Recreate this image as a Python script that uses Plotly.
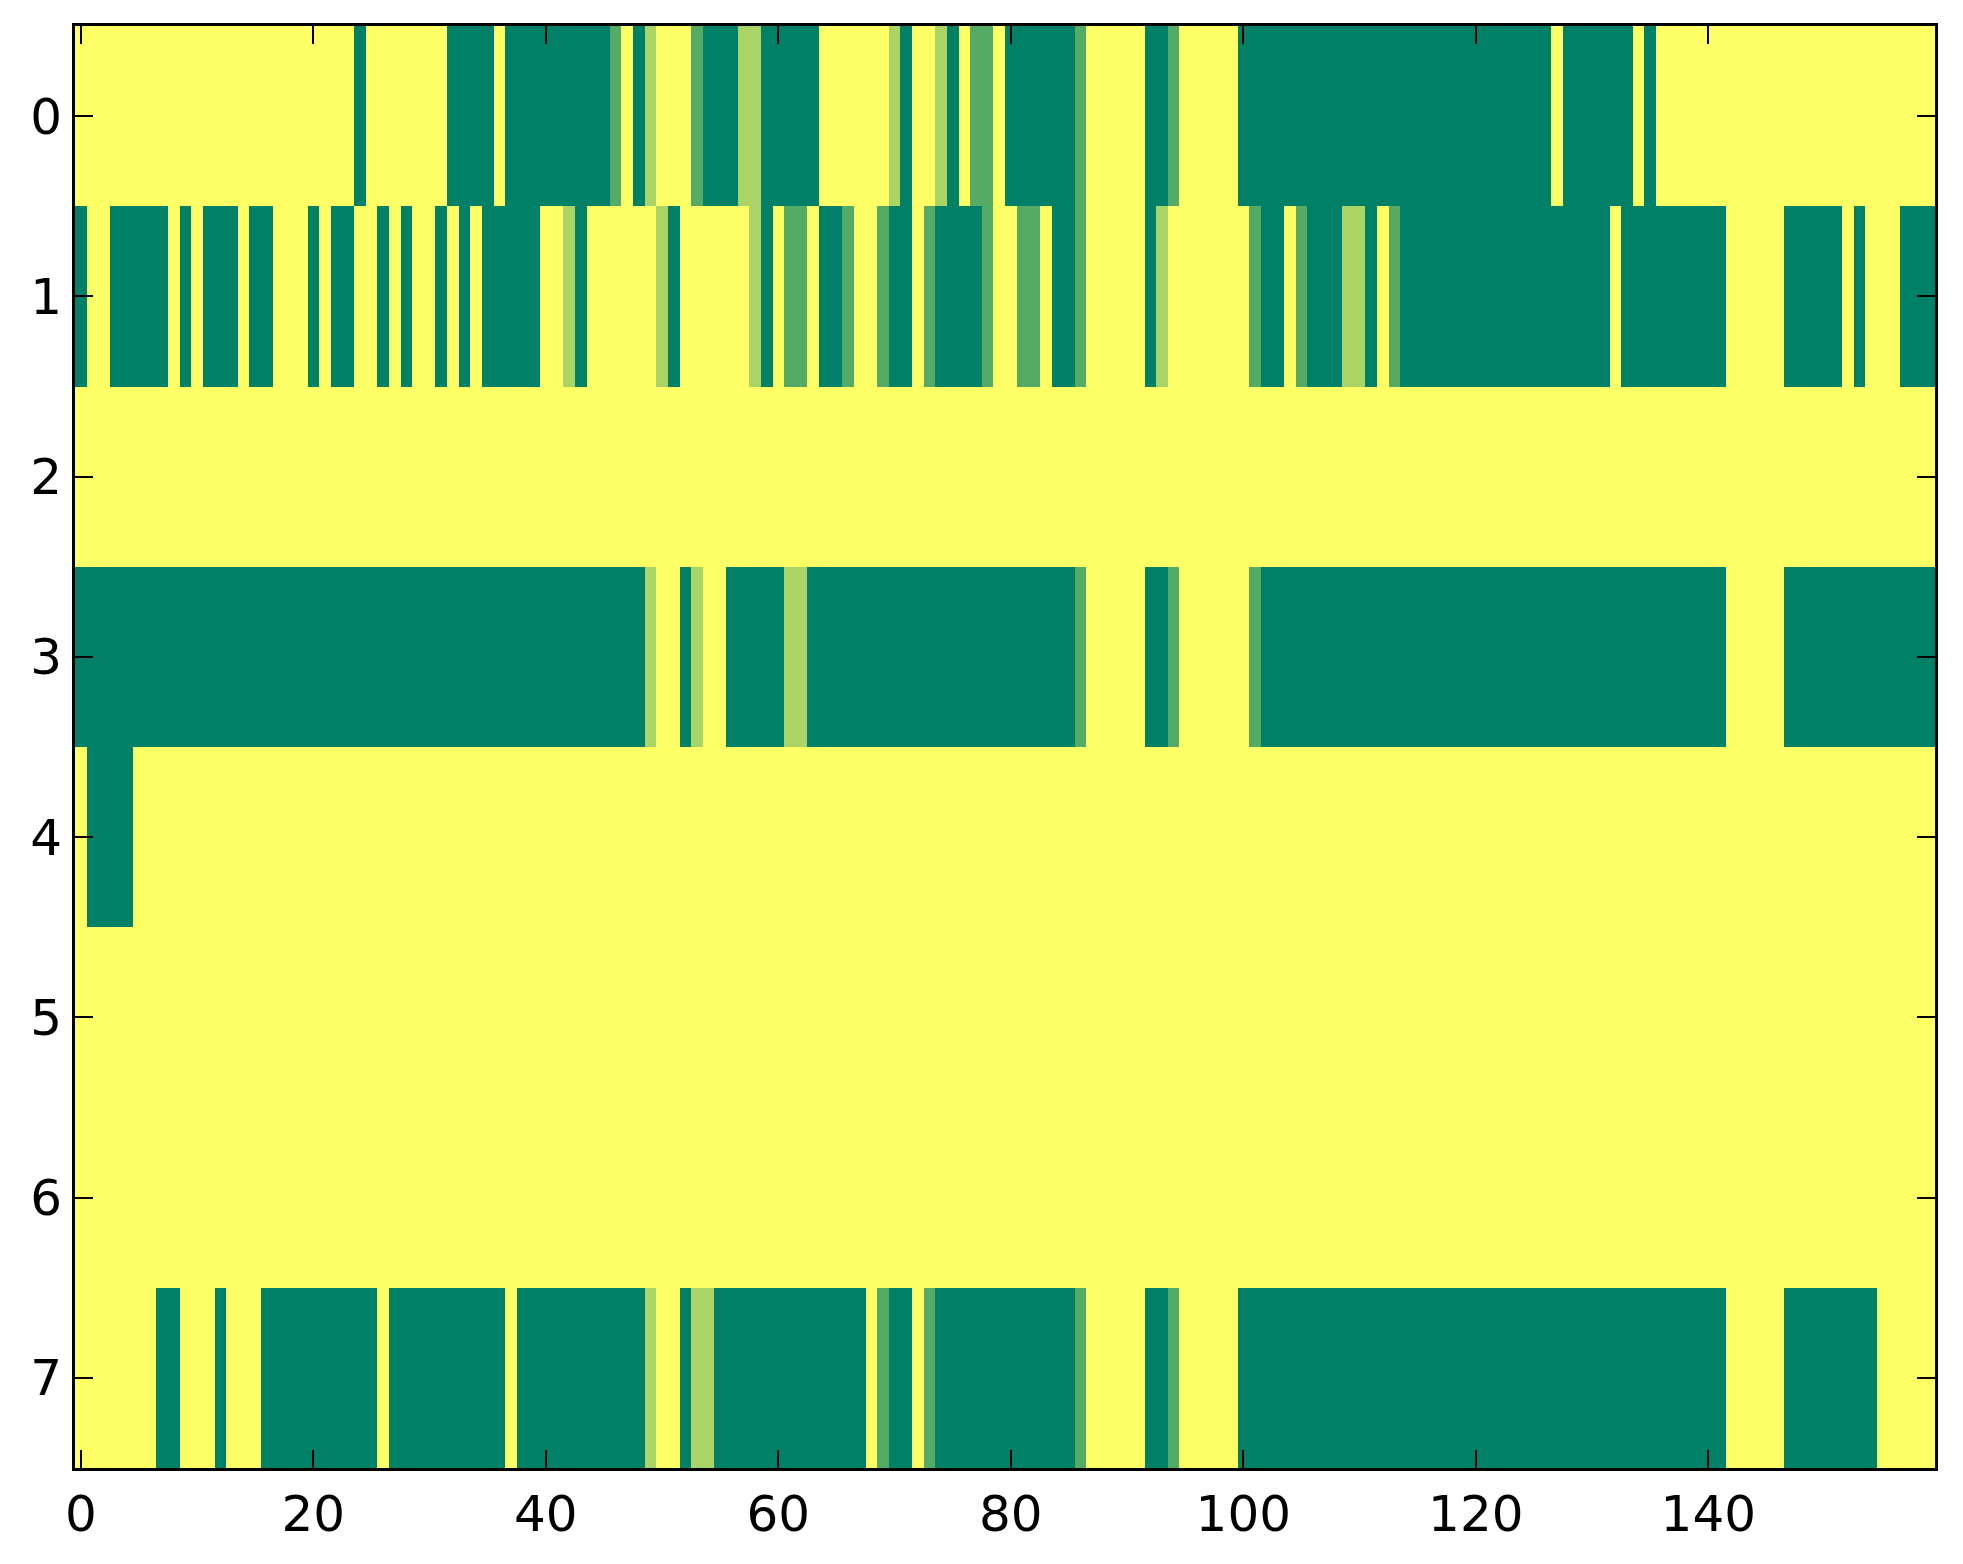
import plotly.graph_objects as go

# Cell values per row (0 = dark green ... 3 = yellow), one digit per column, 160 columns
row0 = ("3333333333 3333333333 3333033333 3300003000 0000001302 3331000220 0000333333 2033203113 "
        "0000001333 3300133333 0000000000 0000000000 0000000300 0000303333 3333333333 3333333333")
row1 = ("0330000030 3000300333 0300330303 3030300000 3320333333 2033333320 3113001331 0031000013 "
        "3113001333 3302333333 3100310002 2031000000 0000000000 0030000000 0033333000 0030333000")
row2 = ("3333333333 3333333333 3333333333 3333333333 3333333333 3333333333 3333333333 3333333333 "
        "3333333333 3333333333 3333333333 3333333333 3333333333 3333333333 3333333333 3333333333")
row3 = ("0000000000 0000000000 0000000000 0000000000 0000000002 3302330000 0220000000 0000000000 "
        "0000001333 3300133333 3100000000 0000000000 0000000000 0000000000 0033333000 0000000000")
row4 = ("3000033333 3333333333 3333333333 3333333333 3333333333 3333333333 3333333333 3333333333 "
        "3333333333 3333333333 3333333333 3333333333 3333333333 3333333333 3333333333 3333333333")
row5 = row2
row6 = row2
row7 = ("3333333003 3303330000 0000003000 0000000300 0000000002 3302200000 0000000031 0031000000 "
        "0000001333 3300133333 0000000000 0000000000 0000000000 0000000000 0033333000 0000033333")

rows = [row0, row1, row2, row3, row4, row5, row6, row7]
z = [[int(ch) for ch in r.replace(" ", "")] for r in rows]

x_vals = list(range(160))
y_vals = list(range(8))
x_ticks = [0, 20, 40, 60, 80, 100, 120, 140]
y_ticks = [0, 1, 2, 3, 4, 5, 6, 7]

fig = go.Figure(go.Heatmap(
    z=z, x=x_vals, y=y_vals,
    zmin=0, zmax=3,
    colorscale=[[0, "rgb(0,128,102)"], [1, "rgb(255,255,102)"]],
    showscale=False,
))

axis_common = dict(
    showline=True, linecolor="black", linewidth=3, mirror="ticks",
    ticks="inside", ticklen=18, tickwidth=1.5, tickcolor="black",
    showgrid=False, zeroline=False,
    tickfont=dict(family="DejaVu Sans", size=50, color="black"),
)

fig.update_layout(
    width=1963, height=1564,
    margin=dict(l=67, r=36, t=18, b=104),
    paper_bgcolor="white", plot_bgcolor="white",
    xaxis=dict(range=[-0.5, 159.5], tickvals=x_ticks, **axis_common),
    yaxis=dict(range=[7.5, -0.5], tickvals=y_ticks, **axis_common),
)

fig.write_html("out.html")
